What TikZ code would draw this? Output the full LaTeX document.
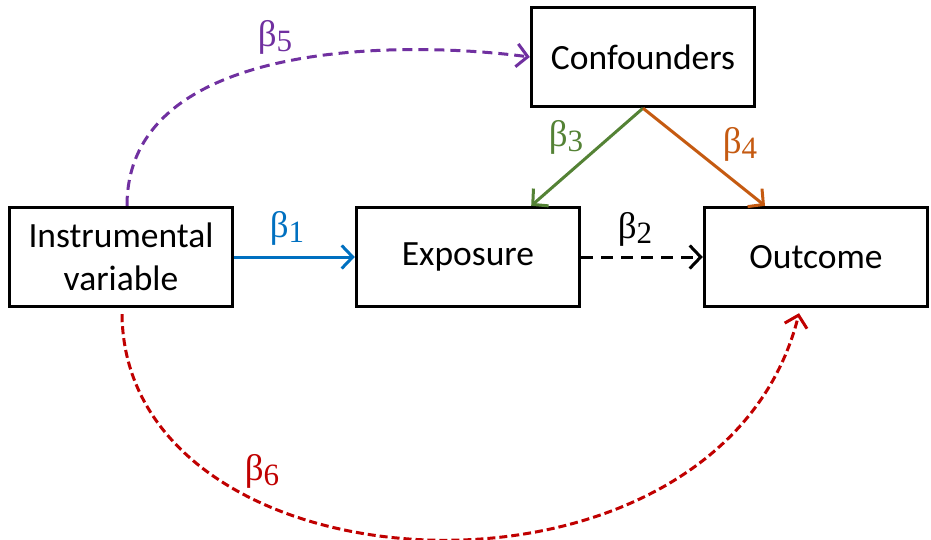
\documentclass[tikz,border=0pt]{standalone}
\usepackage{fontspec}
\setmainfont{Carlito}
\newfontfamily\betafont{Liberation Serif}
\usetikzlibrary{arrows.meta}
\definecolor{ivblue}{RGB}{0,112,192}
\definecolor{ivpurple}{RGB}{112,48,160}
\definecolor{ivgreen}{RGB}{84,130,53}
\definecolor{ivorange}{RGB}{197,90,17}
\definecolor{ivred}{RGB}{192,0,0}
\newcommand{\coef}[1]{β\raisebox{-0.3ex}{\fontsize{31}{31}\selectfont #1}}

\begin{document}
\begin{tikzpicture}[x=1pt, y=-1pt,
    var/.style={draw, line width=3.4pt, minimum width=223pt, minimum height=99pt, align=center, font=\fontsize{35.5}{43}\selectfont},
    link/.style={line width=3pt, -{Straight Barb[length=11pt,width=23pt]}},
    coef/.style={font=\betafont\fontsize{37}{37}\selectfont}]
  \useasboundingbox (0,0) rectangle (931,539);
  % variables
  \node[var] (iv) at (121,257) {Instrumental\\variable};
  \node[var] (expo) at (468,257) {Exposure};
  \node[var] (outc) at (816,257) {Outcome};
  \node[var] (conf) at (643,57) {Confounders};
  % effects
  \draw[link, ivblue] (iv) -- (expo);
  \draw[link, dash pattern=on 12pt off 8pt] (expo) -- (outc);
  \draw[link, ivgreen] (conf.south) -- ([xshift=-50pt]expo.north east);
  \draw[link, ivorange] (conf.south) -- ([xshift=-51pt]outc.north);
  \draw[link, ivpurple, dash pattern=on 10pt off 6pt] ([xshift=6pt]iv.north) .. controls (127,40) and (400,40) .. (conf.west);
  \draw[link, ivred, dash pattern=on 8pt off 4pt] ([xshift=1pt,yshift=-6pt]iv.south) .. controls (125,600) and (720,630) .. ([xshift=-17pt,yshift=-5pt]outc.south);
  % labels
  \node[coef, ivblue] (b1) at (287,228) {\coef{1}};
  \node[coef] (b2) at (635,229) {\coef{2}};
  \node[coef, ivgreen] (b3) at (566,137) {\coef{3}};
  \node[coef, ivorange] (b4) at (740,144) {\coef{4}};
  \node[coef, ivpurple] (b5) at (275,37) {\coef{5}};
  \node[coef, ivred] (b6) at (262,471) {\coef{6}};
\end{tikzpicture}
\end{document}
